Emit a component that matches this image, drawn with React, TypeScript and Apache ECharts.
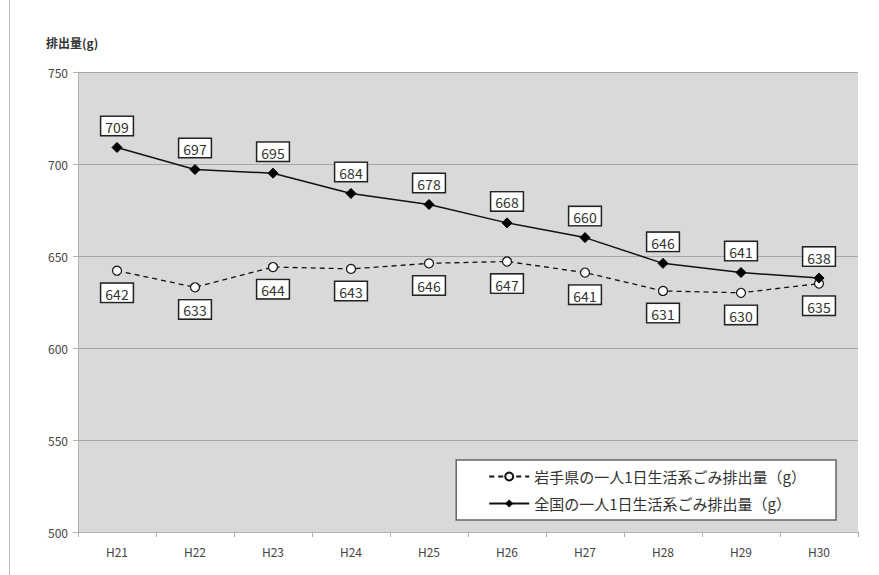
import React, { useEffect, useRef } from "react";
import * as echarts from "echarts";

const categories = ["H21", "H22", "H23", "H24", "H25", "H26", "H27", "H28", "H29", "H30"];
const iwateValues = [642, 633, 644, 643, 646, 647, 641, 631, 630, 635];
const nationalValues = [709, 697, 695, 684, 678, 668, 660, 646, 641, 638];
const iwateName = "岩手県の一人1日生活系ごみ排出量（g）";
const nationalName = "全国の一人1日生活系ごみ排出量（g）";
const yTitle = "排出量(g)";

const FONT = "'Noto Sans CJK JP', 'Noto Sans', sans-serif";

export default function App() {
  const ref = useRef<HTMLDivElement>(null);
  useEffect(() => {
    const chart = echarts.init(ref.current!, undefined, { renderer: "svg" });
    const labelBox = {
      show: true,
      color: "#333",
      fontSize: 14,
      fontFamily: FONT,
      backgroundColor: "#fff",
      borderColor: "#222",
      borderWidth: 1.5,
      padding: [3, 4, 1, 4],
    };
    chart.setOption({
      animation: false,
      textStyle: { fontFamily: FONT },
      graphic: [
        { type: "line", shape: { x1: 9.5, y1: 0, x2: 9.5, y2: 575 }, style: { stroke: "#bbb", lineWidth: 1 } },
        { type: "text", left: 46, top: 36, style: { text: yTitle, font: "bold 12px " + FONT, fill: "#333" } },
      ],
      grid: { left: 78, right: 21, top: 72, bottom: 43, backgroundColor: "#d9d9d9", show: true, borderWidth: 0 },
      legend: {
        orient: "vertical",
        right: 43,
        top: 460,
        backgroundColor: "#fff",
        borderColor: "#666",
        borderWidth: 1.5,
        padding: [9, 30, 9, 32],
        itemGap: 12,
        itemWidth: 40,
        itemHeight: 10,
        textStyle: { fontSize: 15, color: "#333", fontFamily: FONT },
        data: [iwateName, nationalName],
      },
      xAxis: {
        type: "category",
        data: categories,
        boundaryGap: true,
        axisLine: { lineStyle: { color: "#b0b0b0" } },
        axisTick: { show: true, length: 5, lineStyle: { color: "#b0b0b0" } },
        axisLabel: { color: "#444", fontSize: 12, margin: 13 },
      },
      yAxis: {
        type: "value",
        min: 500,
        max: 750,
        interval: 50,
        axisLine: { show: true, lineStyle: { color: "#b0b0b0" } },
        axisTick: { show: true, length: 5, lineStyle: { color: "#b0b0b0" } },
        axisLabel: { color: "#444", fontSize: 12, margin: 10 },
        splitLine: { lineStyle: { color: "#a6a6a6", width: 1 } },
      },
      series: [
        {
          name: iwateName,
          type: "line",
          data: iwateValues,
          symbol: "circle",
          symbolSize: 9,
          itemStyle: { color: "#fff", borderColor: "#111", borderWidth: 1.2 },
          lineStyle: { color: "#111", width: 1.3, type: [5, 4] },
          label: { ...labelBox, position: "bottom", distance: 8 },
        },
        {
          name: nationalName,
          type: "line",
          data: nationalValues,
          symbol: "diamond",
          symbolSize: 10,
          itemStyle: { color: "#000", borderColor: "#000" },
          lineStyle: { color: "#111", width: 1.5 },
          label: { ...labelBox, position: "top", distance: 7 },
        },
      ],
    });
    return () => chart.dispose();
  }, []);
  return <div ref={ref} style={{ position: "absolute", left: 0, top: 0, width: 879, height: 575, background: "#fff" }} />;
}
